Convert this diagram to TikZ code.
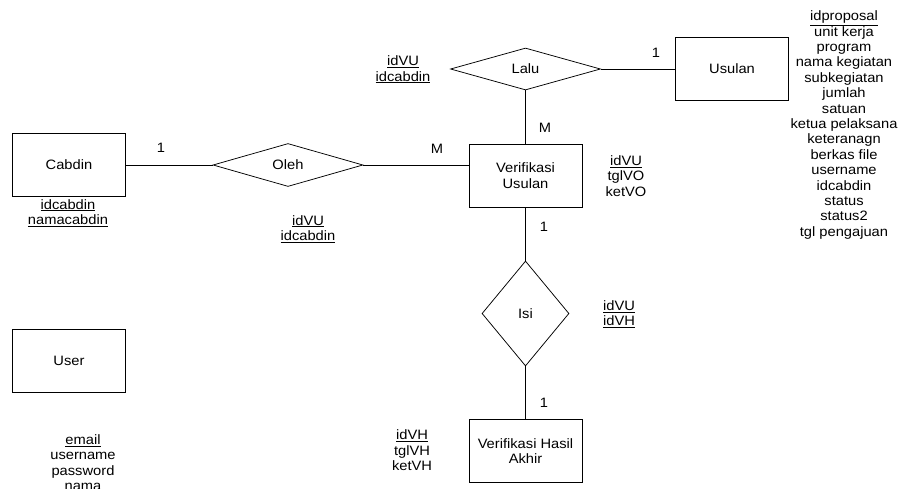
\documentclass[tikz,border=0pt]{standalone}
\usepackage{fontspec}
\setmainfont{Liberation Sans}[FakeStretch=1.08]
\usetikzlibrary{shapes.geometric,positioning}

\begin{document}
\begin{tikzpicture}[x=1pt,y=-1pt,line width=0.75pt,
    every node/.style={font=\fontsize{13.6}{15.4}\selectfont},
    entity/.style={draw, minimum width=113pt, minimum height=63pt, align=center, inner sep=2pt},
    relation/.style={draw, diamond, inner sep=0pt},
    attr/.style={align=center, inner sep=0pt},
    card/.style={inner sep=0pt}]
    \useasboundingbox (0,0) rectangle (900,488);
    % entities
    \node[entity] (usulan) at (732,69) {Usulan};
    \node[entity] (verus) at (525.5,175.5) {Verifikasi\\Usulan};
    \node[entity] (cabdin) at (69,165) {Cabdin};
    \node[entity] (user) at (69,361) {User};
    \node[entity] (verha) at (525.5,451) {Verifikasi Hasil\\Akhir};
    % relations
    \node[relation, minimum width=150pt, minimum height=42pt] (lalu) at (525.5,69) {Lalu};
    \node[relation, minimum width=150pt, minimum height=43pt] (oleh) at (288,165) {Oleh};
    \node[relation, minimum width=87pt, minimum height=105pt] (isi) at (525.5,313.5) {Isi};
    % connectors
    \draw (lalu.east) -- (usulan.west);
    \draw (lalu.south) -- (verus.north);
    \draw (cabdin.east) -- (oleh.west);
    \draw (oleh.east) -- (oleh.east -| verus.west);
    \draw (verus.south) -- (isi.north);
    \draw (isi.south) -- (verha.north);
    % cardinalities
    \node[card] (c1) at (656,53) {1};
    \node[card] (c2) at (545,128) {M};
    \node[card] (c3) at (161,148) {1};
    \node[card] (c4) at (437,149) {M};
    \node[card] (c5) at (544,227) {1};
    \node[card] (c6) at (544,403) {1};
    % attributes
    \node[attr] (alalu) at (403,69.5) {\underline{idVU}\\\underline{idcabdin}};
    \node[attr] (aoleh) at (308,229) {\underline{idVU}\\\underline{idcabdin}};
    \node[attr] (acabdin) at (68,213) {\underline{idcabdin}\\\underline{namacabdin}};
    \node[attr] (averus) at (626,176) {\underline{idVU}\\tglVO\\ketVO};
    \node[attr] (aisi) at (619,314) {\underline{idVU}\\\underline{idVH}};
    \node[attr] (averha) at (412,450.5) {\underline{idVH}\\tglVH\\ketVH};
    \node[attr] (auser) at (83,462.5) {\underline{email}\\username\\password\\nama};
    \node[attr] (ausulan) at (844,125) {\underline{idproposal}\\unit kerja\\program\\nama kegiatan\\subkegiatan\\jumlah\\satuan\\ketua pelaksana\\keteranagn\\berkas file\\username\\idcabdin\\status\\status2\\tgl pengajuan};
\end{tikzpicture}
\end{document}
